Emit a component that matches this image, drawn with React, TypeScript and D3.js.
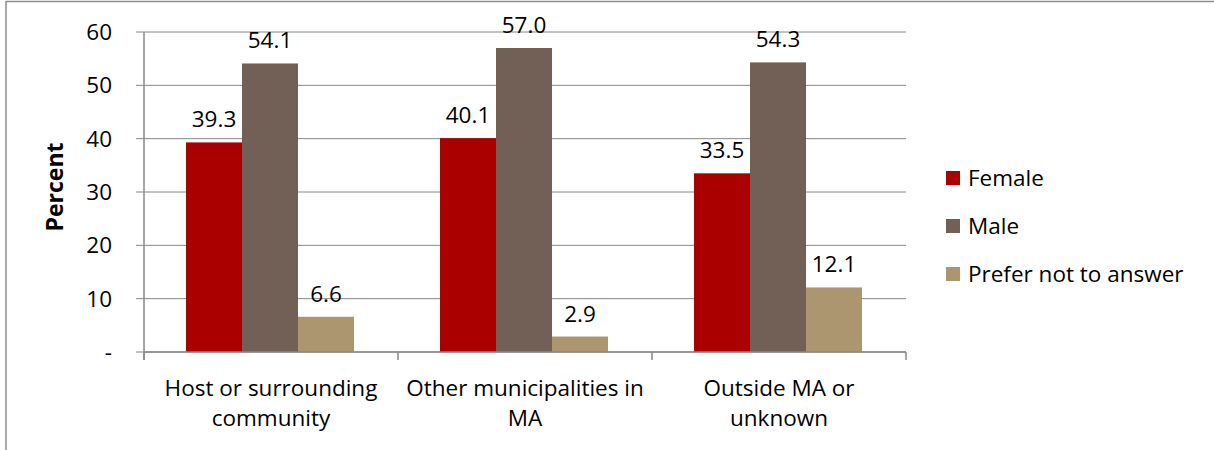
import React from "react";
import * as d3 from "d3";

const categories = [
  ["Host or surrounding", "community"],
  ["Other municipalities in", "MA"],
  ["Outside MA or", "unknown"],
];
const seriesNames = ["Female", "Male", "Prefer not to answer"];
const female = [39.3, 40.1, 33.5];
const male = [54.1, 57.0, 54.3];
const preferNot = [6.6, 2.9, 12.1];
const yTicks = [0, 10, 20, 30, 40, 50, 60];
const colors = ["#AA0000", "#725F55", "#AC9670"];

const FONT = "'Open Sans', sans-serif";
const FS = 22.5;

export default function App() {
  const W = 1214, H = 450;
  const left = 144, right = 906, top = 32, bottom = 352;
  const catKeys = categories.map((c) => c.join(" "));
  const x = d3.scaleBand<string>().domain(catKeys).range([left, right]);
  const inner = d3.scaleBand<string>().domain(seriesNames).range([42, 42 + 168]);
  const y = d3.scaleLinear().domain([0, 60]).range([bottom, top]);
  const series = [female, male, preferNot];
  const bounds = [left, ...catKeys.map((k) => (x(k) as number) + x.bandwidth())];

  return (
    <svg width={W} height={H} style={{ position: "absolute", left: 0, top: 0 }} fontFamily={FONT}>
      <rect x={0} y={0} width={W} height={H} fill="#fff" />
      <line x1={6} y1={1.5} x2={W} y2={1.5} stroke="#8c8c8c" strokeWidth={1.5} />
      <line x1={6} y1={1} x2={6} y2={H} stroke="#8c8c8c" strokeWidth={1.5} />
      {yTicks.map((t) => (
        <g key={t}>
          <line x1={136} x2={right} y1={y(t)} y2={y(t)} stroke="#888" strokeWidth={1} />
          <text x={112} y={y(t)} dy="0.35em" textAnchor="end" fontSize={FS} fill="#000">
            {t === 0 ? "-" : t}
          </text>
        </g>
      ))}
      {series.map((vals, si) =>
        vals.map((v, ci) => {
          const bx = (x(catKeys[ci]) as number) + (inner(seriesNames[si]) as number);
          const bw = inner.bandwidth();
          return (
            <g key={`${si}-${ci}`}>
              <rect x={bx} y={y(v)} width={bw} height={bottom - y(v)} fill={colors[si]} />
              <text x={bx + bw / 2} y={y(v) - 15} textAnchor="middle" fontSize={FS} fill="#000">
                {v.toFixed(1)}
              </text>
            </g>
          );
        })
      )}
      <line x1={left} x2={left} y1={top} y2={360} stroke="#888" strokeWidth={1.5} />
      <line x1={left} x2={right} y1={bottom} y2={bottom} stroke="#888" strokeWidth={1.5} />
      {bounds.map((b, i) => (
        <line key={i} x1={b} x2={b} y1={bottom} y2={360} stroke="#888" strokeWidth={1.5} />
      ))}
      {categories.map((lines, ci) => (
        <text key={ci} textAnchor="middle" fontSize={FS} fill="#000">
          {lines.map((ln, li) => (
            <tspan key={li} x={(x(catKeys[ci]) as number) + x.bandwidth() / 2} y={396 + li * 30}>
              {ln}
            </tspan>
          ))}
        </text>
      ))}
      <text
        transform={`translate(63,187) rotate(-90)`}
        textAnchor="middle"
        fontSize={23}
        fontWeight="bold"
        fill="#000"
      >
        Percent
      </text>
      {seriesNames.map((s, i) => (
        <g key={s} transform={`translate(946,${178 + i * 48})`}>
          <rect x={0} y={-7} width={14} height={14} fill={colors[i]} />
          <text x={22} y={0} dy="0.35em" fontSize={FS} fill="#000">
            {s}
          </text>
        </g>
      ))}
    </svg>
  );
}
